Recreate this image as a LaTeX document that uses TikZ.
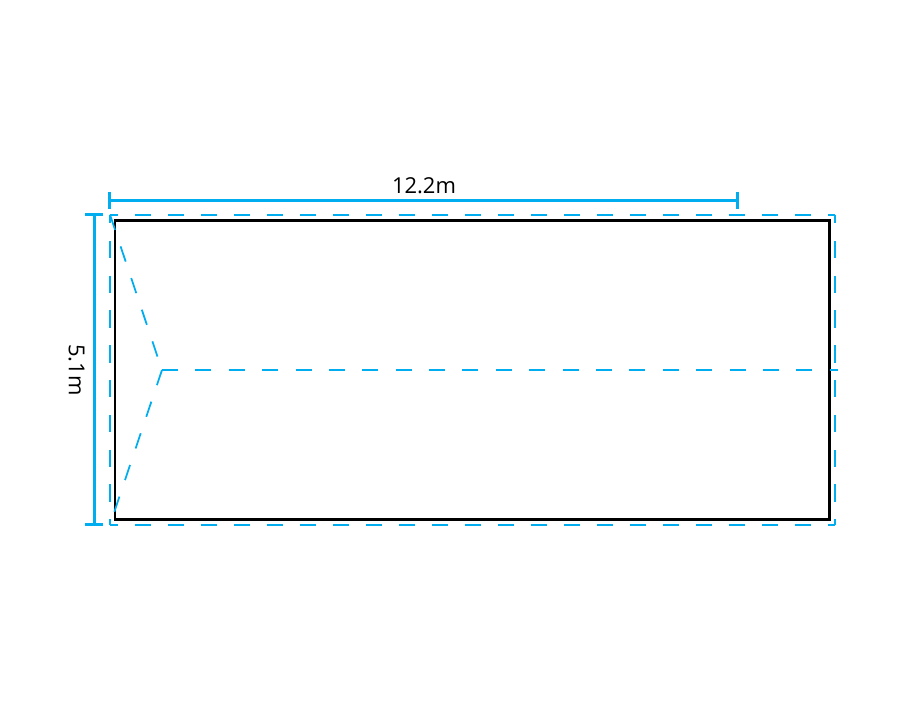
\documentclass[tikz,border=0pt]{standalone}
\usepackage{fontspec}
\setmainfont{Open Sans}
\definecolor{dimblue}{HTML}{00AEEF}
\tikzset{
 wall/.style={draw=black,line width=0.85pt},
 dimline/.style={draw=dimblue,line width=0.85pt},
 eaves/.style={draw=dimblue,line width=0.68pt,dash pattern=on 4.55pt off 4.84pt,dash phase=2.28pt},
 eavesside/.style={draw=dimblue,line width=0.68pt,dash pattern=on 4.95pt off 4.95pt,dash phase=2.48pt},
 ridge/.style={draw=dimblue,line width=0.5pt,dash pattern=on 4.55pt off 4.95pt},
 dimtext/.style={font=\fontsize{6.25pt}{7.5pt}\selectfont,inner sep=0pt}
}
\begin{document}
\begin{tikzpicture}
 \useasboundingbox (0,0) rectangle (9,7);
 \coordinate (nw) at (1.10,4.853);
 \coordinate (ne) at (8.35,4.853);
 \coordinate (sw) at (1.10,1.753);
 \coordinate (se) at (8.35,1.753);
 \coordinate (hipc) at (1.62,3.30);
 \coordinate (ridgeend) at (8.38,3.30);
 \draw[wall] (1.15,4.795) rectangle (8.295,1.81);
 \draw[eaves] (nw) -- (ne);
 \draw[eaves] (sw) -- (se);
 \draw[eavesside] (nw) -- (sw);
 \draw[eavesside] (ne) -- (se);
 \draw[ridge] (nw) -- (hipc);
 \draw[ridge] (hipc) -- (sw);
 \draw[ridge] (hipc) -- (ridgeend);
 \draw[dimline] (1.097,4.997) -- (7.377,4.997);
 \draw[dimline] (1.097,5.085) -- (1.097,4.909);
 \draw[dimline] (7.377,5.085) -- (7.377,4.909);
 \draw[dimline] (0.943,4.853) -- (0.943,1.753);
 \draw[dimline] (0.855,4.853) -- (1.031,4.853);
 \draw[dimline] (0.855,1.753) -- (1.031,1.753);
 \node[dimtext] (lengthlabel) at (4.24,5.14) {12.2m};
 \node[dimtext,rotate=-90] (widthlabel) at (0.765,3.30) {5.1m};
\end{tikzpicture}
\end{document}
